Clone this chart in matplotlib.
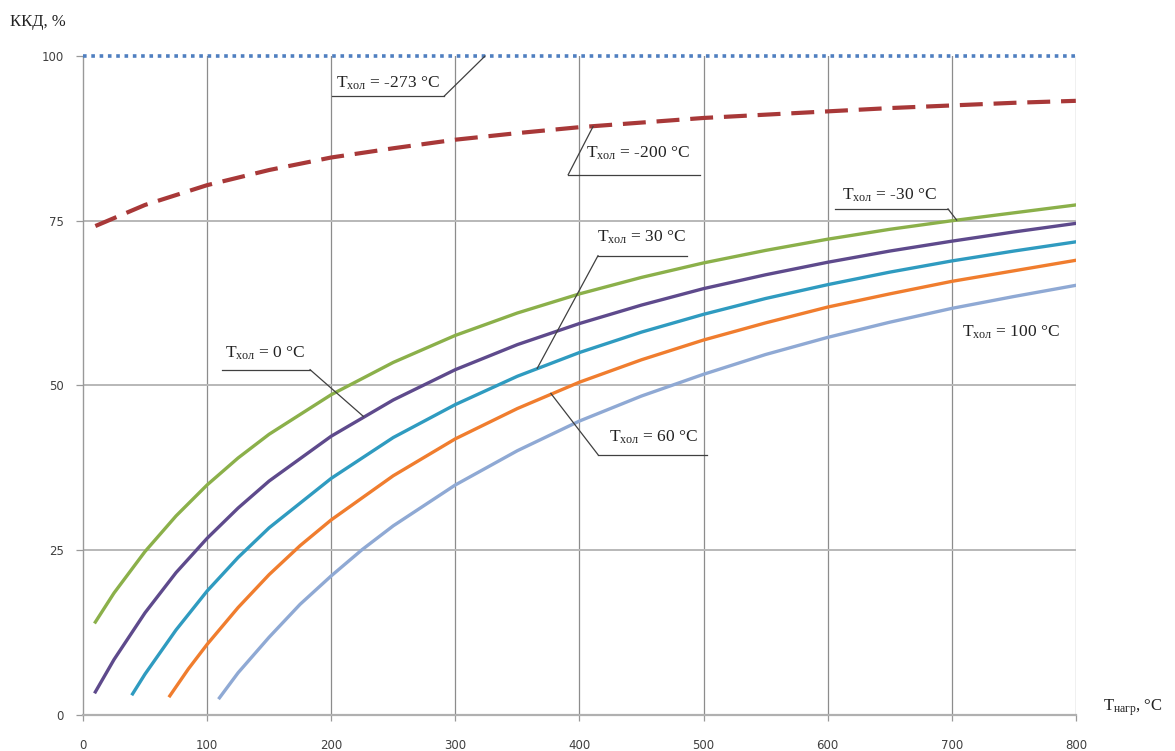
import matplotlib
matplotlib.use("Agg")
import matplotlib.pyplot as plt

# ---- data ----
x_m273 = [0, 800]
y_m273 = [100, 100]

x_m200 = [10, 50, 100, 150, 200, 250, 300, 350, 400, 450, 500, 550, 600, 650, 700, 750, 800]
y_m200 = [74.2, 77.4, 80.4, 82.7, 84.6, 86.0, 87.3, 88.3, 89.2, 89.9, 90.6, 91.1, 91.6, 92.1, 92.5, 92.9, 93.2]

x_m30 = [10, 25, 50, 75, 100, 125, 150, 200, 250, 300, 350, 400, 450, 500, 550, 600, 650, 700, 750, 800]
y_m30 = [14.1, 18.5, 24.8, 30.2, 34.9, 39.0, 42.6, 48.6, 53.5, 57.6, 61.0, 63.9, 66.4, 68.6, 70.5, 72.2, 73.7, 75.0, 76.2, 77.4]

x_0 = [10, 25, 50, 75, 100, 125, 150, 200, 250, 300, 350, 400, 450, 500, 550, 600, 650, 700, 750, 800]
y_0 = [3.5, 8.4, 15.5, 21.6, 26.8, 31.4, 35.5, 42.3, 47.8, 52.4, 56.2, 59.4, 62.2, 64.7, 66.8, 68.7, 70.4, 71.9, 73.3, 74.6]

x_30 = [40, 50, 75, 100, 125, 150, 200, 250, 300, 350, 400, 450, 500, 550, 600, 650, 700, 750, 800]
y_30 = [3.2, 6.2, 12.9, 18.8, 23.9, 28.4, 35.9, 42.1, 47.1, 51.4, 55.0, 58.1, 60.8, 63.2, 65.3, 67.2, 68.9, 70.4, 71.8]

x_60 = [70, 85, 100, 125, 150, 175, 200, 250, 300, 350, 400, 450, 500, 550, 600, 650, 700, 750, 800]
y_60 = [2.9, 7.0, 10.7, 16.3, 21.3, 25.7, 29.6, 36.3, 41.9, 46.5, 50.5, 53.9, 56.9, 59.5, 61.9, 63.9, 65.8, 67.4, 69.0]

x_100 = [110, 125, 150, 175, 200, 225, 250, 300, 350, 400, 450, 500, 550, 600, 650, 700, 750, 800]
y_100 = [2.6, 6.4, 11.8, 16.8, 21.1, 25.1, 28.7, 34.9, 40.1, 44.6, 48.4, 51.7, 54.7, 57.3, 59.6, 61.7, 63.5, 65.2]

x_ticks = [0, 100, 200, 300, 400, 500, 600, 700, 800]
y_ticks = [0, 25, 50, 75, 100]

labels = ["-273", "-200", "-30", "0", "30", "60", "100"]

# ---- style ----
plt.rcParams['mathtext.fontset'] = 'custom'
plt.rcParams['mathtext.rm'] = 'Liberation Serif'
plt.rcParams['mathtext.it'] = 'Liberation Serif:italic'
plt.rcParams['mathtext.bf'] = 'Liberation Serif:bold'
serif = ['Liberation Serif', 'DejaVu Serif']

fig = plt.figure(figsize=(11.75, 7.51), dpi=100)
ax = fig.add_axes([0.0706, 0.048, 0.845, 0.8774])
ax.set_xlim(0, 800)
ax.set_ylim(0, 100)

# grid
for xv in x_ticks[1:]:
    ax.axvline(xv, color='#8C8C8C', lw=0.9, zorder=1)
for yv in y_ticks[1:4]:
    ax.axhline(yv, color='#B8B8B8', lw=1.4, zorder=1)

for side in ['top', 'right']:
    ax.spines[side].set_visible(False)
ax.spines['left'].set_color('#999999')
ax.spines['left'].set_linewidth(1.0)
ax.spines['bottom'].set_color('#B0B0B0')
ax.spines['bottom'].set_linewidth(1.6)

ax.set_xticks(x_ticks)
ax.set_yticks(y_ticks)
ax.tick_params(axis='y', length=5, width=0.9, color='#999999', pad=9,
               labelsize=8.5, labelcolor='#404040')
ax.tick_params(axis='x', length=4, width=0.9, color='#999999', pad=13,
               labelsize=8.5, labelcolor='#404040')

# curves
ax.plot(x_m273, y_m273, color='#4F7FC0', lw=2.6, linestyle=(0, (1, 1.3)),
        clip_on=False, zorder=3)
ax.plot(x_m200, y_m200, color='#A83838', lw=3.0, linestyle=(0, (5.5, 2.6)), zorder=3)
ax.plot(x_m30, y_m30, color='#8BB04A', lw=2.4, zorder=3)
ax.plot(x_0, y_0, color='#5E4A8C', lw=2.4, zorder=3)
ax.plot(x_30, y_30, color='#2F9BC0', lw=2.4, zorder=3)
ax.plot(x_60, y_60, color='#F07D2E', lw=2.4, zorder=3)
ax.plot(x_100, y_100, color='#8FA9D4', lw=2.4, zorder=3)

lc = '#404040'
def lab(t):
    return r"$\mathrm{T}_{\mathrm{хол}}$" + " = " + t + " °C"

# (label, text pos, underline x-range, underline y, leader start x, leader end)
ann = [
    (labels[0], (246, 95.9), (201, 291), 93.9, 291, (324, 100.0)),
    (labels[1], (447, 85.3), (391, 497), 82.0, 391, (411, 89.3)),
    (labels[2], (650, 78.9), (606, 697), 76.8, 697, (704, 75.1)),
    (labels[3], (147, 54.9), (112, 183), 52.4, 183, (226, 45.3)),
    (labels[4], (450, 72.5), (415, 487), 69.7, 415, (366, 52.6)),
    (labels[5], (460, 42.1), (415, 503), 39.5, 415, (377, 48.8)),
]
for t, (tx, ty), (u0, u1), uy, lx, (ex, ey) in ann:
    ax.text(tx, ty, lab(t), ha='center', va='center', fontsize=12.5,
            family=serif, color='#222222', zorder=5)
    ax.plot([u0, u1], [uy, uy], color=lc, lw=0.9, zorder=4, clip_on=False)
    ax.plot([lx, ex], [uy, ey], color=lc, lw=0.9, zorder=4, clip_on=False)

ax.text(748, 58.0, lab(labels[6]), ha='center', va='center', fontsize=12.5,
        family=serif, color='#222222', zorder=5)

# axis titles
fig.text(10 / 1175, 1 - 22 / 751, "ККД, %", ha='left', va='center',
         fontsize=12, family=serif, color='#222222')
fig.text(1103 / 1175, 1 - 708 / 751, r"$\mathrm{T}_{\mathrm{нагр}}$" + ", °C",
         ha='left', va='center', fontsize=12, family=serif, color='#222222')

fig.savefig("out.png", dpi=100)
